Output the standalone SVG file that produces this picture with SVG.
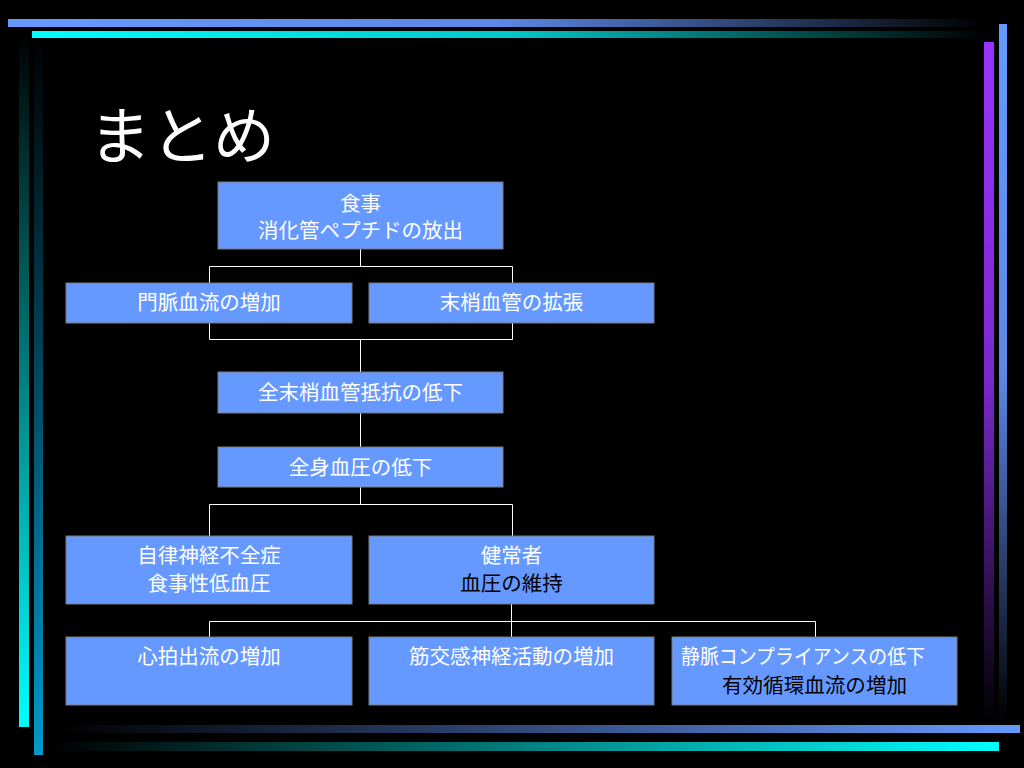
<svg xmlns="http://www.w3.org/2000/svg" width="1024" height="768" viewBox="0 0 1024 768">
<defs>
<linearGradient id="gTopBlue" x1="0" y1="0" x2="1" y2="0"><stop offset="0" stop-color="#6699ff"/><stop offset="0.5" stop-color="#5c88e6"/><stop offset="1" stop-color="#000"/></linearGradient>
<linearGradient id="gTopCyan" x1="0" y1="0" x2="1" y2="0"><stop offset="0" stop-color="#00ffff"/><stop offset="0.5" stop-color="#00c8c8"/><stop offset="1" stop-color="#000"/></linearGradient>
<linearGradient id="gLeftCyan" x1="0" y1="0" x2="0" y2="1"><stop offset="0" stop-color="#000"/><stop offset="1" stop-color="#00ffff"/></linearGradient>
<linearGradient id="gLeftTeal" x1="0" y1="0" x2="0" y2="1"><stop offset="0" stop-color="#000"/><stop offset="1" stop-color="#0099cc"/></linearGradient>
<linearGradient id="gRightPurple" x1="0" y1="0" x2="0" y2="1"><stop offset="0" stop-color="#9933ff"/><stop offset="0.5" stop-color="#7a28cc"/><stop offset="1" stop-color="#000"/></linearGradient>
<linearGradient id="gRightBlue" x1="0" y1="0" x2="0" y2="1"><stop offset="0" stop-color="#6699ff"/><stop offset="0.5" stop-color="#5c88e6"/><stop offset="1" stop-color="#000"/></linearGradient>
<linearGradient id="gBotBlue" x1="0" y1="0" x2="1" y2="0"><stop offset="0" stop-color="#000"/><stop offset="1" stop-color="#6699ff"/></linearGradient>
<linearGradient id="gBotCyan" x1="0" y1="0" x2="1" y2="0"><stop offset="0" stop-color="#000"/><stop offset="1" stop-color="#00ffff"/></linearGradient>
</defs>
<style>
.box{fill:#6699ff;stroke:#7a7a7a;stroke-width:1}
.t{font-family:"Liberation Sans","Noto Sans CJK JP",sans-serif;font-size:20.5px;fill:#ffffff;text-anchor:middle}
.k{fill:#000000}
.s{text-anchor:start}
.c{fill:none;stroke:#ffffff;stroke-width:1}
.title{font-family:"Noto Sans CJK JP",sans-serif;font-size:62px;fill:#ffffff}
</style>
<rect x="0" y="0" width="1024" height="768" fill="#000"/>
<g id="frame">
<rect x="8" y="19" width="977" height="8" fill="url(#gTopBlue)"/>
<rect x="32" y="31" width="953" height="7" fill="url(#gTopCyan)"/>
<rect x="19" y="30" width="10" height="697" fill="url(#gLeftCyan)"/>
<rect x="34" y="38" width="9" height="717" fill="url(#gLeftTeal)"/>
<rect x="984" y="42" width="10" height="681" fill="url(#gRightPurple)"/>
<rect x="999" y="24" width="8" height="698" fill="url(#gRightBlue)"/>
<rect x="57" y="725" width="963" height="8" fill="url(#gBotBlue)"/>
<rect x="50" y="742" width="949" height="9" fill="url(#gBotCyan)"/>
</g>
<text class="title" x="89" y="159">まとめ</text>
<g id="connectors">
<path class="c" d="M360.5 249V266.5M209.5 283V266.5H512.5V283"/>
<path class="c" d="M209.5 323V339.5H512.5V323M360.5 339.5V372"/>
<path class="c" d="M360.5 413V447"/>
<path class="c" d="M360.5 487V504.5M209.5 536V504.5H512.5V536"/>
<path class="c" d="M511.5 604V621.5M209.5 637V621.5H815.5V637M511.5 621.5V637"/>
</g>
<g id="n1"><rect class="box" x="218" y="182" width="285" height="67"/><text class="t" x="360.5" y="211">食事</text><text class="t" x="360.5" y="237.5">消化管ペプチドの放出</text></g>
<g id="n2"><rect class="box" x="66" y="283" width="286" height="40"/><text class="t" x="209" y="310">門脈血流の増加</text></g>
<g id="n3"><rect class="box" x="369" y="283" width="285" height="40"/><text class="t" x="511.5" y="310">末梢血管の拡張</text></g>
<g id="n4"><rect class="box" x="218" y="372" width="285" height="41"/><text class="t" x="360.5" y="400">全末梢血管抵抗の低下</text></g>
<g id="n5"><rect class="box" x="218" y="447" width="285" height="40"/><text class="t" x="360.5" y="474.5">全身血圧の低下</text></g>
<g id="n6"><rect class="box" x="66" y="536" width="286" height="68"/><text class="t" x="209" y="562.5">自律神経不全症</text><text class="t" x="209" y="590.5">食事性低血圧</text></g>
<g id="n7"><rect class="box" x="369" y="536" width="285" height="68"/><text class="t" x="511.5" y="562.5">健常者</text><text class="t k" x="511.5" y="590.5">血圧の維持</text></g>
<g id="n8"><rect class="box" x="66" y="637" width="286" height="68"/><text class="t" x="209" y="664">心拍出流の増加</text></g>
<g id="n9"><rect class="box" x="369" y="637" width="285" height="68"/><text class="t" x="511.5" y="664">筋交感神経活動の増加</text></g>
<g id="n10"><rect class="box" x="672" y="637" width="285" height="68"/><text class="t s" x="681" y="664" textLength="244" lengthAdjust="spacingAndGlyphs">静脈コンプライアンスの低下</text><text class="t s k" x="722" y="692.5" textLength="185" lengthAdjust="spacingAndGlyphs">有効循環血流の増加</text></g>
</svg>
